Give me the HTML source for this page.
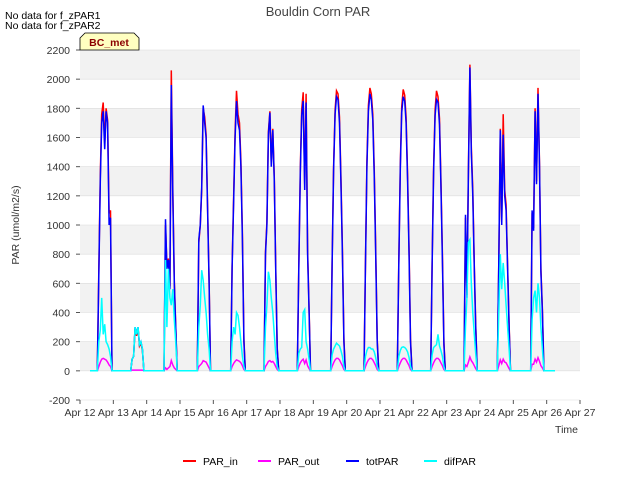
<!DOCTYPE html>
<html><head><meta charset="utf-8"><style>
body{margin:0;background:#fff;font-family:"Liberation Sans",sans-serif;}
svg text{font-family:"Liberation Sans",sans-serif;}
</style></head><body>
<svg id="chart" width="640" height="480" viewBox="0 0 640 480" xmlns="http://www.w3.org/2000/svg">
<rect x="0" y="0" width="640" height="480" fill="#fff"/>
<g id="bands"></g>
<g id="grid"></g>
<g id="series"></g>
<g id="axes"></g>
<text x="318" y="16" text-anchor="middle" font-size="13" fill="#444">Bouldin Corn PAR</text>
<text x="5" y="19" font-size="10.5" fill="#000">No data for f_zPAR1</text>
<text x="5" y="29" font-size="10.5" fill="#000">No data for f_zPAR2</text>
<g>
<path d="M80,50 L80,38 L85,33 L134,33 L139,38 L139,50 Z" fill="#ffffc0" stroke="#000" stroke-width="0.8"/>
<text x="109" y="46" text-anchor="middle" font-size="10.5" font-weight="bold" fill="#8b0000">BC_met</text>
</g>
<text transform="translate(19,225) rotate(-90)" text-anchor="middle" font-size="10.5" fill="#333">PAR (umol/m2/s)</text>
<text x="578" y="433" text-anchor="end" font-size="10.5" fill="#333">Time</text>
<g id="legend"></g>
</svg>
<script>
const dayLabels=["Apr 12","Apr 13","Apr 14","Apr 15","Apr 16","Apr 17","Apr 18","Apr 19","Apr 20","Apr 21","Apr 22","Apr 23","Apr 24","Apr 25","Apr 26","Apr 27"];
const yTicks=[-200,0,200,400,600,800,1000,1200,1400,1600,1800,2000,2200];
const dayFracs=[0.52,0.564,0.608,0.652,0.696,0.74,0.784,0.828,0.872,0.916,0.96,1.0];
const totPAR=[
[0,650,1300,1700,1780,1520,1780,1700,1000,1050,0,0],
[0,80,100,300,250,300,180,200,150,0,0,0],
[0,1040,700,760,560,1960,1200,600,300,0,0,0],
[0,900,1000,1260,1820,1700,1600,1100,600,0,0,0],
[0,700,1150,1600,1850,1700,1650,1400,900,200,0,0],
[0,800,1000,1620,1770,1400,1650,1300,700,150,0,0],
[0,700,1350,1750,1850,1240,1840,800,400,0,0,0],
[0,720,1380,1760,1880,1860,1700,1300,800,200,0,0],
[0,740,1400,1780,1900,1860,1720,1320,800,200,0,0],
[0,730,1380,1770,1880,1850,1700,1300,780,200,0,0],
[0,710,1360,1750,1860,1840,1690,1280,760,180,0,0],
[0,1070,500,1350,2080,1500,1200,700,300,0,0,0],
[0,750,1650,1000,1620,1200,1100,700,300,0,0,0],
[0,1100,960,1780,1280,1900,1400,680,400,0,0,0]
];
const parIn=[
[0,680,1340,1760,1840,1560,1800,1720,1080,1100,0,0],
[0,80,100,290,240,290,170,190,140,0,0,0],
[0,1000,720,770,580,2060,1250,620,310,0,0,0],
[0,880,1000,1240,1800,1740,1620,1120,620,0,0,0],
[0,720,1180,1640,1920,1760,1700,1440,940,220,0,0],
[0,820,1020,1640,1780,1420,1660,1320,720,160,0,0],
[0,720,1380,1790,1910,1280,1900,830,420,0,0,0],
[0,740,1400,1790,1920,1900,1740,1340,840,220,0,0],
[0,760,1430,1820,1940,1900,1760,1360,840,220,0,0],
[0,750,1410,1810,1930,1890,1740,1340,820,220,0,0],
[0,730,1390,1790,1920,1880,1730,1320,800,200,0,0],
[0,1050,520,1370,2100,1540,1240,720,320,0,0,0],
[0,740,1660,1020,1760,1240,1140,720,320,0,0,0],
[0,1080,980,1800,1300,1940,1420,700,420,0,0,0]
];
const parOut=[
[0,30,60,80,85,80,75,60,40,30,0,0],
[0,5,5,5,5,5,5,5,5,0,0,0],
[0,20,10,20,30,70,40,20,10,0,0,0],
[0,30,40,50,70,65,60,40,20,0,0,0],
[0,30,50,65,75,70,65,55,35,10,0,0],
[0,30,45,65,70,60,65,50,30,10,0,0],
[0,30,55,70,80,50,75,35,15,0,0,0],
[0,30,55,75,85,85,75,55,35,10,0,0],
[0,30,55,75,85,85,75,55,35,10,0,0],
[0,30,55,75,85,85,75,55,35,10,0,0],
[0,30,55,75,85,85,75,55,35,10,0,0],
[0,40,30,60,95,70,55,35,15,0,0,0],
[0,35,75,50,80,60,55,35,15,0,0,0],
[0,45,45,80,60,90,65,35,20,0,0,0]
];
const difPAR=[
[0,200,280,500,250,320,200,180,150,100,0,0],
[0,80,100,300,250,300,180,200,150,0,0,0],
[0,760,300,700,500,450,560,350,200,0,0,0],
[0,300,450,690,620,500,400,250,150,0,0,0],
[0,200,300,250,400,380,300,200,100,30,0,0],
[0,300,450,680,620,500,400,250,120,30,0,0],
[0,120,150,160,400,420,200,150,80,0,0,0],
[0,110,150,170,190,180,170,140,100,30,0,0],
[0,100,140,160,160,150,150,130,90,30,0,0],
[0,100,140,160,165,160,150,130,90,30,0,0],
[0,110,160,170,180,250,170,140,100,30,0,0],
[0,300,500,880,900,600,400,250,120,0,0,0],
[0,400,800,560,740,600,450,300,150,0,0,0],
[0,350,500,550,400,600,500,300,150,0,0,0]
];
const firstDay=12;
const NS="http://www.w3.org/2000/svg";
const x0=80,x1=580,yTop=50,yBot=400,yMin=-200,yMax=2200;
function xs(d){return x0+(d-firstDay)*(x1-x0)/15;}
function ys(v){return yBot-(v-yMin)*(yBot-yTop)/(yMax-yMin);}
function mk(tag,attrs,parent){const e=document.createElementNS(NS,tag);for(const k in attrs)e.setAttribute(k,attrs[k]);parent.appendChild(e);return e;}
const bands=document.getElementById('bands'),grid=document.getElementById('grid'),axes=document.getElementById('axes'),series=document.getElementById('series'),legend=document.getElementById('legend');
const bg=mk('rect',{x:x0,y:yTop,width:x1-x0,height:yBot-yTop,fill:'#ffffff'},bands);


for(let v=0;v<2200;v+=400){
  const b=mk('rect',{x:x0,y:ys(v+200),width:x1-x0,height:ys(v)-ys(v+200),fill:'#f2f2f2'},bands);
  
  
}
yTicks.forEach(v=>{
  const g=mk('line',{x1:x0,x2:x1,y1:ys(v),y2:ys(v),stroke:'#dcdcdc','stroke-width':0.6},grid);
  
  
  const t=mk('text',{x:x0-10,y:ys(v)+4,'text-anchor':'end','font-size':10.5,fill:'#333'},axes);
  t.textContent=v;
  
  
  mk('line',{x1:x0-4,x2:x0,y1:ys(v),y2:ys(v),stroke:'#555'},axes);
});
dayLabels.forEach((l,i)=>{
  const x=xs(firstDay+i);
  mk('line',{x1:x,x2:x,y1:yBot,y2:yBot+4,stroke:'#555'},axes);
  const t=mk('text',{x:x,y:yBot+16,'text-anchor':'middle','font-size':10.5,fill:'#333'},axes);
  t.textContent=l;
  
  
});
function drawSeries(data,color,name,sw){
  let pts=[[xs(12.3),ys(0)]];
  data.forEach((day,i)=>{day.forEach((v,j)=>{pts.push([xs(firstDay+i+dayFracs[j]),ys(v)]);});});
  pts.push([xs(26.25),ys(0)]);
  const p=mk('polyline',{points:pts.map(p=>p[0].toFixed(1)+','+p[1].toFixed(1)).join(' '),fill:'none',stroke:color,'stroke-width':sw},series);
  
  
}
drawSeries(parIn,'#ff0000','par-in-line',1.5);
drawSeries(parOut,'#ff00ff','par-out-line',1.5);
drawSeries(totPAR,'#0000ff','totpar-line',1.5);
drawSeries(difPAR,'#00ffff','difpar-line',1.5);
const leg=[["PAR_in","#ff0000",183],["PAR_out","#ff00ff",258],["totPAR","#0000ff",346],["difPAR","#00ffff",424]];
leg.forEach(([n,c,x])=>{
  const g=mk('g',{},legend);
  
  
  mk('line',{x1:x,x2:x+13,y1:461,y2:461,stroke:c,'stroke-width':2},g);
  const t=mk('text',{x:x+20,y:465,'font-size':10.5,fill:'#000'},g);
  t.textContent=n;
});
</script>
</body></html>
